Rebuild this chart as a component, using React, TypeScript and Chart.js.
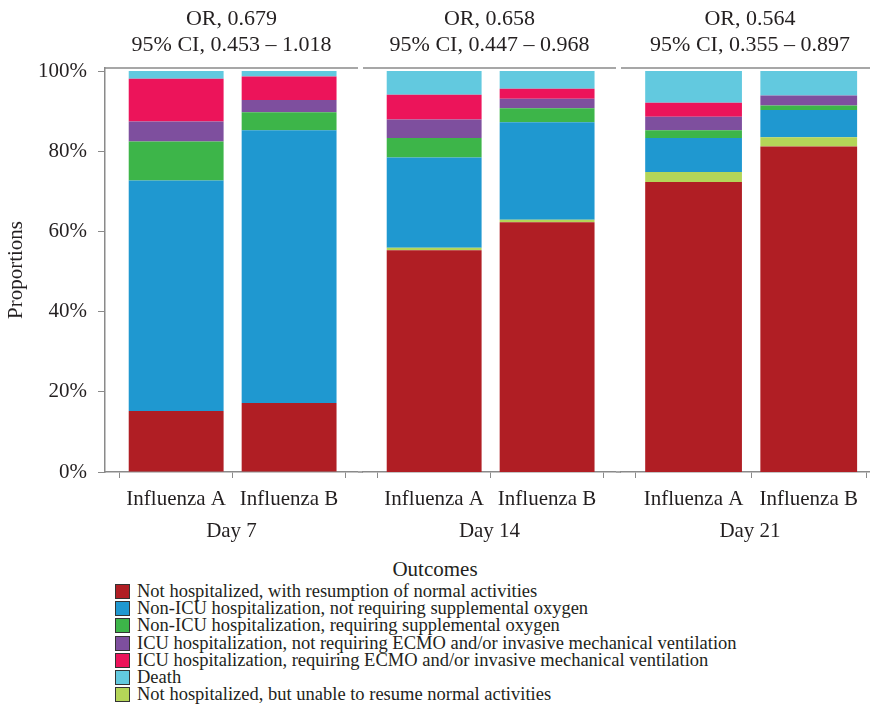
import React, { useEffect, useRef } from 'react';
import { Chart, registerables } from 'chart.js';

Chart.register(...registerables);

// ---------- data ----------
const days = ['Day 7', 'Day 14', 'Day 21'];
const groups = ['Influenza A', 'Influenza B'];
const orLabels = ['OR, 0.679', 'OR, 0.658', 'OR, 0.564'];
const ciLabels = ['95% CI, 0.453 – 1.018', '95% CI, 0.447 – 0.968', '95% CI, 0.355 – 0.897'];
const yTicks = [0, 20, 40, 60, 80, 100];
const yTitle = 'Proportions';
const legendTitle = 'Outcomes';

// values per bar: [Day7 A, Day7 B, Day14 A, Day14 B, Day21 A, Day21 B] (percent)
const notHospNormal = [15.2, 17.2, 55.3, 62.3, 72.3, 81.2];
const notHospUnable = [0, 0, 0.6, 0.6, 2.5, 2.3];
const nonIcuNoOxygen = [57.5, 68.0, 22.5, 24.3, 8.5, 6.8];
const nonIcuOxygen = [9.7, 4.5, 4.9, 3.5, 1.9, 1.1];
const icuNoEcmo = [5.0, 3.1, 4.6, 2.4, 3.4, 2.5];
const icuEcmo = [10.65, 5.8, 6.2, 2.5, 3.5, 0];
const death = [1.95, 1.4, 5.9, 4.4, 7.9, 6.1];

// series in stacking order (bottom -> top)
const series = [
  { name: 'Not hospitalized, with resumption of normal activities', color: '#B01E24', values: notHospNormal },
  { name: 'Not hospitalized, but unable to resume normal activities', color: '#B4D558', values: notHospUnable },
  { name: 'Non-ICU hospitalization, not requiring supplemental oxygen', color: '#1F98D0', values: nonIcuNoOxygen },
  { name: 'Non-ICU hospitalization, requiring supplemental oxygen', color: '#3DB549', values: nonIcuOxygen },
  { name: 'ICU hospitalization, not requiring ECMO and/or invasive mechanical ventilation', color: '#7E4F9E', values: icuNoEcmo },
  { name: 'ICU hospitalization, requiring ECMO and/or invasive mechanical ventilation', color: '#EC145A', values: icuEcmo },
  { name: 'Death', color: '#62C9DF', values: death },
];

// legend order (indices into series)
const legendOrder = [0, 2, 3, 4, 5, 6, 1];

// ---------- style ----------
const FONT = '"Liberation Serif", "DejaVu Serif", serif';
const TEXT = '#231f20';
const AXIS = '#8a8a8a';

const framePlugin = {
  id: 'panelFrame',
  afterDraw(chart: any, _args: any, opts: any) {
    const { ctx, chartArea } = chart;
    ctx.save();
    ctx.strokeStyle = AXIS;
    ctx.lineWidth = 1.5;
    ctx.beginPath();
    ctx.moveTo(chartArea.left, chartArea.top);
    ctx.lineTo(chartArea.right, chartArea.top);
    if (opts && opts.bridge) {
      ctx.moveTo(0, chartArea.bottom);
      ctx.lineTo(chartArea.left, chartArea.bottom);
    }
    ctx.stroke();
    ctx.restore();
  },
};

function Panel({ d, left, width, height }: { d: number; left: number; width: number; height: number }) {
  const ref = useRef<HTMLCanvasElement | null>(null);
  useEffect(() => {
    const showY = d === 0;
    const font = { family: FONT, size: 21 };
    const chart = new Chart(ref.current as HTMLCanvasElement, {
      type: 'bar',
      data: {
        datasets: series.map((s) => ({
          label: s.name,
          data: groups.map((_, i) => ({ x: i, y: s.values[d * groups.length + i] })),
          backgroundColor: s.color,
          borderWidth: 0,
          categoryPercentage: 1,
          barPercentage: 0.84,
        })),
      },
      plugins: [framePlugin as any],
      options: {
        responsive: false,
        animation: false,
        devicePixelRatio: 1,
        layout: { padding: { left: d === 0 ? 0 : 5, right: 0, top: 0, bottom: 0 } },
        plugins: {
          legend: { display: false },
          tooltip: { enabled: false },
          title: {
            display: true,
            fullSize: false,
            text: [orLabels[d], ciLabels[d]],
            color: TEXT,
            font: { family: FONT, size: 22, lineHeight: '26px', weight: 'normal' },
            padding: { top: 6, bottom: 10 },
          },
          panelFrame: { bridge: d > 0 },
        } as any,
        scales: {
          x: {
            type: 'linear',
            min: -0.63,
            max: 1.61,
            stacked: true,
            offset: false,
            afterBuildTicks: (s: any) => {
              s.ticks = groups.map((_, i) => ({ value: i }));
            },
            afterFit: (s: any) => {
              s.height = 76;
            },
            ticks: {
              callback: (_v: any, i: number) => groups[i],
              font,
              color: TEXT,
              padding: 9,
              maxRotation: 0,
              autoSkip: false,
            },
            grid: { drawOnChartArea: false, drawTicks: true, tickLength: 6, color: AXIS, lineWidth: 1 },
            border: { display: true, color: AXIS, width: 1.5 },
            title: { display: true, text: days[d], font, color: TEXT, padding: { top: 6, bottom: 4 } },
          },
          y: {
            min: 0,
            max: 100.75,
            stacked: true,
            display: showY,
            afterBuildTicks: (s: any) => {
              s.ticks = yTicks.map((v) => ({ value: v }));
            },
            afterFit: (s: any) => {
              s.width = showY ? 105 : 0;
            },
            ticks: {
              callback: (v: any) => `${v}%`,
              font,
              color: TEXT,
              padding: 11,
            },
            grid: { drawOnChartArea: false, drawTicks: true, tickLength: 7, color: AXIS, lineWidth: 1 },
            border: { display: true, color: AXIS, width: 1.5 },
            title: { display: true, text: yTitle, font, color: TEXT, padding: { top: 4, bottom: 0 } },
          },
        } as any,
      },
    } as any);
    return () => chart.destroy();
  }, [d]);
  return (
    <canvas
      ref={ref}
      width={width}
      height={height}
      style={{ position: 'absolute', left, top: 0, width, height }}
    />
  );
}

export default function App() {
  const panelH = 548;
  return (
    <div
      style={{
        position: 'absolute',
        left: 0,
        top: 0,
        width: 870,
        height: 711,
        overflow: 'hidden',
        background: '#ffffff',
        fontFamily: FONT,
        color: TEXT,
      }}
    >
      <Panel d={0} left={0} width={358} height={panelH} />
      <Panel d={1} left={358} width={258} height={panelH} />
      <Panel d={2} left={616} width={263} height={panelH} />
      <div
        style={{
          position: 'absolute',
          left: 0,
          top: 556,
          width: 870,
          textAlign: 'center',
          fontSize: 21,
          lineHeight: '26px',
        }}
      >
        {legendTitle}
      </div>
      {legendOrder.map((si, i) => (
        <div
          key={si}
          style={{
            position: 'absolute',
            left: 115,
            top: 583 + i * 17.2,
            height: 17.2,
            display: 'flex',
            alignItems: 'center',
            whiteSpace: 'nowrap',
          }}
        >
          <span
            style={{
              display: 'inline-block',
              width: 15,
              height: 15,
              background: series[si].color,
              border: '1px solid #333',
              boxSizing: 'border-box',
            }}
          />
          <span style={{ marginLeft: 7, fontSize: 18.5, lineHeight: '17.2px' }}>{series[si].name}</span>
        </div>
      ))}
    </div>
  );
}
